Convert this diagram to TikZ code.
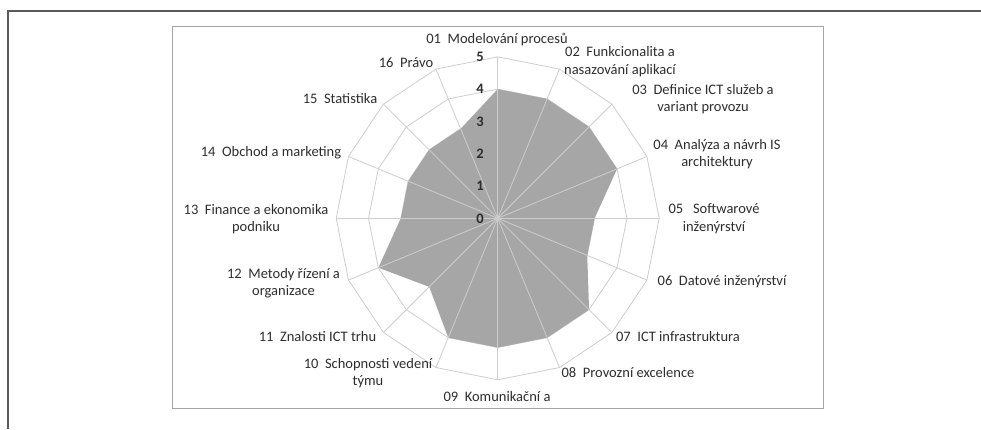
\documentclass[tikz,border=0pt]{standalone}
\usepackage{fontspec}
\setmainfont{Carlito}
\definecolor{framegray}{RGB}{90,90,90}
\definecolor{boxgray}{RGB}{165,165,165}
\definecolor{gridgray}{RGB}{205,205,205}
\definecolor{areagray}{RGB}{166,166,166}
\definecolor{textgray}{RGB}{45,45,45}
\begin{document}
\begin{tikzpicture}[x=1pt, y=-1pt,
    cat/.style={font=\fontsize{14.5}{17.5}\selectfont, text=textgray, align=center, inner sep=0pt},
    tick/.style={font=\fontsize{14.5}{17.5}\selectfont\bfseries, text=textgray, anchor=east, inner sep=0pt}]
  \useasboundingbox (0,0) rectangle (981,429);
  \draw[framegray, line width=2] (8,429) -- (8,11) -- (981,11);
  \draw[boxgray, line width=0.8] (172,26) rectangle (823,408);
  \begin{scope}[shift={(497.7,218.3)}]
    \coordinate (o) at (0,0);
    \foreach \r in {1,...,5}
      \draw[gridgray, line width=0.8] (-90:\r*32.3) \foreach \i in {1,...,15}{ -- (22.5*\i-90:\r*32.3)} -- cycle;
    \foreach \v [count=\i from 0] in {4,4,4,4,3,3,4,4,4,4,3,4,3,3,3,3}
      \coordinate (p\i) at (22.5*\i-90:\v*32.3);
    \fill[areagray] (p0) \foreach \i in {1,...,15}{ -- (p\i)} -- cycle;
    \foreach \i in {0,...,15}
      {
        \coordinate (s\i) at (22.5*\i-90:5*32.3);
        \draw[gridgray, line width=0.8] (o) -- (s\i);
      }
    \foreach \k in {0,...,5}
      \node[tick] (n\k) at (-13.7,-\k*32.3) {\k};
  \end{scope}
  \node[cat] (l01) at (497,40) {01\ \ Modelování procesů};
  \node[cat] (l02) at (620,61.5) {02\ \ Funkcionalita a\\nasazování aplikací};
  \node[cat] (l03) at (703,99) {03\ \ Definice ICT služeb a\\variant provozu};
  \node[cat] (l04) at (717,154) {04\ \ Analýza a návrh IS\\architektury};
  \node[cat] (l05) at (714,218.5) {05\ \ \ Softwarové\\inženýrství};
  \node[cat] (l06) at (722,282) {06\ \ Datové inženýrství};
  \node[cat] (l07) at (678,336.5) {07\ \ ICT infrastruktura};
  \node[cat] (l08) at (628,373) {08\ \ Provozní excelence};
  \node[cat] (l09) at (497,397) {09\ \ Komunikační a};
  \node[cat] (l10) at (368,373) {10\ \ Schopnosti vedení\\týmu};
  \node[cat] (l11) at (317.5,336.5) {11\ \ Znalosti ICT trhu};
  \node[cat] (l12) at (283.5,283) {12\ \ Metody řízení a\\organizace};
  \node[cat] (l13) at (256,219) {13\ \ Finance a ekonomika\\podniku};
  \node[cat] (l14) at (271,153) {14\ \ Obchod a marketing};
  \node[cat] (l15) at (340,99) {15\ \ Statistika};
  \node[cat] (l16) at (406,62.5) {16\ \ Právo};
\end{tikzpicture}
\end{document}
